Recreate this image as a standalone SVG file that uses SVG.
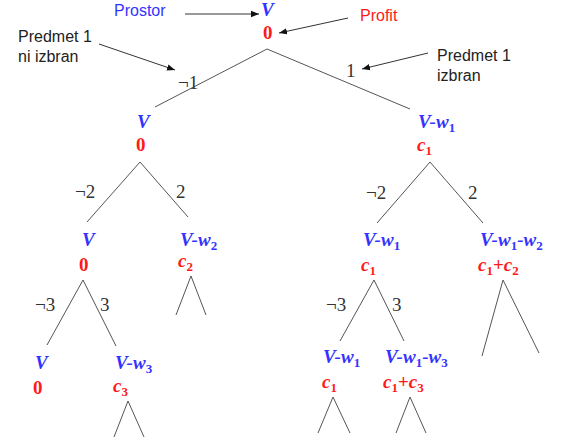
<svg xmlns="http://www.w3.org/2000/svg" width="570" height="441" viewBox="0 0 570 441">
<defs>
<marker id="ah" viewBox="0 0 10 10" refX="10" refY="5" markerWidth="8" markerHeight="8" markerUnits="userSpaceOnUse" orient="auto">
<path d="M0,1 L10,5 L0,9 z" fill="#111"/>
</marker>
</defs>
<rect fill="#fff" width="570" height="441"/>

<g id="connectors" stroke="#555" stroke-width="1" fill="none">
<line x1="267" y1="49" x2="155" y2="107"/>
<line x1="267" y1="49" x2="410" y2="109"/>
<line x1="140" y1="162" x2="87" y2="222"/>
<line x1="140" y1="162" x2="188" y2="217"/>
<line x1="430" y1="162" x2="377" y2="223"/>
<line x1="430" y1="162" x2="483" y2="223"/>
<line x1="83" y1="280" x2="47" y2="345"/>
<line x1="83" y1="280" x2="116" y2="346"/>
<line x1="191" y1="276" x2="176" y2="315"/>
<line x1="191" y1="276" x2="206" y2="315"/>
<line x1="374" y1="280" x2="340" y2="341"/>
<line x1="374" y1="280" x2="404" y2="341"/>
<line x1="503" y1="280" x2="482" y2="356"/>
<line x1="503" y1="280" x2="539" y2="353"/>
<line x1="128" y1="401" x2="114" y2="437"/>
<line x1="128" y1="401" x2="144" y2="437"/>
<line x1="333" y1="397" x2="318" y2="433"/>
<line x1="333" y1="397" x2="350" y2="433"/>
<line x1="410" y1="397" x2="396" y2="433"/>
<line x1="410" y1="397" x2="426" y2="433"/>
<g font-family="Liberation Serif, serif" font-size="19" fill="#333" stroke="none">
<text x="178" y="89">¬1</text>
<text x="346" y="77">1</text>
<text x="75" y="198">¬2</text>
<text x="176" y="198">2</text>
<text x="366" y="199">¬2</text>
<text x="468" y="199">2</text>
<text x="35" y="311">¬3</text>
<text x="100" y="311">3</text>
<text x="326" y="311">¬3</text>
<text x="392" y="311">3</text>
</g>
</g>

<g id="annotations" font-family="Liberation Sans, Arial, sans-serif" font-size="16" fill="#222">
<text x="114" y="16" fill="#3333ff">Prostor</text>
<text x="360" y="21" fill="#ff1a1a">Profit</text>
<text x="18" y="42">Predmet 1</text>
<text x="18" y="62">ni izbran</text>
<text x="437" y="61">Predmet 1</text>
<text x="437" y="81">izbran</text>
<g stroke="#333" stroke-width="1" fill="none" marker-end="url(#ah)">
<line x1="185" y1="14" x2="259" y2="14"/>
<line x1="348" y1="18" x2="279" y2="33"/>
<line x1="99" y1="44" x2="175" y2="70"/>
<line x1="428" y1="53" x2="362" y2="69"/>
</g>
</g>

<g id="nodes" font-family="Liberation Serif, serif" font-size="19" font-weight="bold" font-style="italic">
<g id="n-root">
<text fill="#3333ff" x="261" y="16">V</text>
<text fill="#ff1a1a" font-style="normal" x="263" y="39">0</text>
</g>
<g id="n-not1">
<text fill="#3333ff" x="137" y="128">V</text>
<text fill="#ff1a1a" font-style="normal" x="136" y="151">0</text>
</g>
<g id="n-1">
<text fill="#3333ff" x="418" y="128">V-w<tspan font-size="13" font-style="normal" dy="4">1</tspan></text>
<text fill="#ff1a1a" x="417" y="151">c<tspan font-size="13" font-style="normal" dy="4">1</tspan></text>
</g>
<g id="n-not1-not2">
<text fill="#3333ff" x="82" y="246">V</text>
<text fill="#ff1a1a" font-style="normal" x="79" y="271">0</text>
</g>
<g id="n-not1-2">
<text fill="#3333ff" x="180" y="246">V-w<tspan font-size="13" font-style="normal" dy="4">2</tspan></text>
<text fill="#ff1a1a" x="178" y="267">c<tspan font-size="13" font-style="normal" dy="4">2</tspan></text>
</g>
<g id="n-1-not2">
<text fill="#3333ff" x="363" y="246">V-w<tspan font-size="13" font-style="normal" dy="4">1</tspan></text>
<text fill="#ff1a1a" x="361" y="271">c<tspan font-size="13" font-style="normal" dy="4">1</tspan></text>
</g>
<g id="n-1-2">
<text fill="#3333ff" x="480" y="246">V-w<tspan font-size="13" font-style="normal" dy="4">1</tspan><tspan dy="-4">-w</tspan><tspan font-size="13" font-style="normal" dy="4">2</tspan></text>
<text fill="#ff1a1a" x="478" y="271">c<tspan font-size="13" font-style="normal" dy="4">1</tspan><tspan font-style="normal" dy="-4">+</tspan>c<tspan font-size="13" font-style="normal" dy="4">2</tspan></text>
</g>
<g id="n-not1-not2-not3">
<text fill="#3333ff" x="35" y="369">V</text>
<text fill="#ff1a1a" font-style="normal" x="33" y="394">0</text>
</g>
<g id="n-not1-not2-3">
<text fill="#3333ff" x="115" y="369">V-w<tspan font-size="13" font-style="normal" dy="4">3</tspan></text>
<text fill="#ff1a1a" x="113" y="392">c<tspan font-size="13" font-style="normal" dy="4">3</tspan></text>
</g>
<g id="n-1-not2-not3">
<text fill="#3333ff" x="323" y="363">V-w<tspan font-size="13" font-style="normal" dy="4">1</tspan></text>
<text fill="#ff1a1a" x="322" y="388">c<tspan font-size="13" font-style="normal" dy="4">1</tspan></text>
</g>
<g id="n-1-not2-3">
<text fill="#3333ff" x="385" y="363">V-w<tspan font-size="13" font-style="normal" dy="4">1</tspan><tspan dy="-4">-w</tspan><tspan font-size="13" font-style="normal" dy="4">3</tspan></text>
<text fill="#ff1a1a" x="383" y="388">c<tspan font-size="13" font-style="normal" dy="4">1</tspan><tspan font-style="normal" dy="-4">+</tspan>c<tspan font-size="13" font-style="normal" dy="4">3</tspan></text>
</g>
</g>
</svg>
